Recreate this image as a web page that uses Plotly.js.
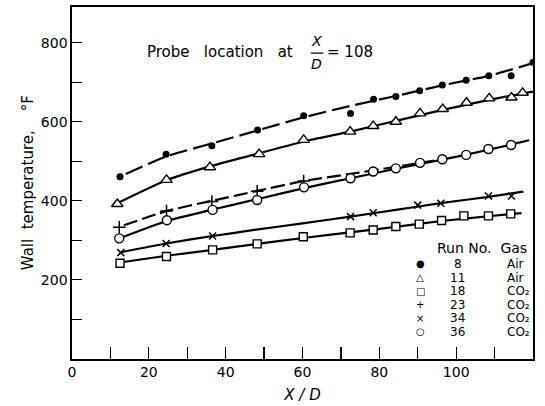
<!DOCTYPE html>
<html>
<head>
<meta charset="utf-8">
<script src="https://cdn.plot.ly/plotly-3.0.1.min.js"></script>
<style>
  html, body { margin: 0; padding: 0; background: #ffffff; }
  #chart { width: 545px; height: 406px; }
</style>
</head>
<body>
<div id="chart"></div>
<script>
// ---- Data ----
// Run 8 (Air) - filled circles
const run8X = [12.5, 24.5, 36.4, 48.3, 60.3, 72.5, 78.5, 84.3, 90.5, 96.4, 102.6, 108.5, 114.3, 120];
const run8Y = [461, 518, 539, 579, 615, 621, 657, 664, 678, 693, 705, 716, 716, 750];
const fit8X = [14, 24.5, 36.4, 48.3, 60.3, 72.5, 84.3, 96.4, 108.5, 120];
const fit8Y = [468, 512, 545, 578, 611, 640, 665, 692, 716, 748];

// Run 11 (Air) - open triangles
const run11X = [11.8, 24.6, 35.9, 48.7, 60.3, 72.4, 78.4, 84.3, 90.6, 96.5, 102.7, 108.6, 114.4, 117.3];
const run11Y = [392, 453, 485, 518, 554, 575, 589, 600, 621, 632, 648, 659, 661, 673];
const fit11X = [11.8, 24.6, 35.9, 48.7, 60.3, 72.4, 84.3, 96.5, 108.6, 120];
const fit11Y = [394, 452, 487, 520, 550, 575, 602, 630, 655, 676];

// Run 18 (CO2) - open squares
const run18X = [12.5, 24.6, 36.6, 48.2, 60.2, 72.4, 78.4, 84.3, 90.4, 96.2, 102, 108.4, 114.2];
const run18Y = [242, 259, 276, 291, 309, 319, 326, 335, 341, 350, 362, 362, 367];
const fit18X = [12.5, 24.6, 36.6, 48.2, 60.2, 72.4, 84.3, 96.2, 108.4, 117];
const fit18Y = [244, 261, 276, 291, 306, 320, 334, 349, 361, 369];

// Run 23 (CO2) - plus signs
const run23X = [12.3, 24.6, 36.4, 48.2, 60.3];
const run23Y = [333, 374, 398, 424, 450];
const fit23X = [13.5, 24.6, 36.4, 48.2, 60.3, 72.5, 84.3, 96.4];
const fit23Y = [338, 374, 400, 425, 450, 468, 486, 505];

// Run 34 (CO2) - crosses
const run34X = [12.7, 24.5, 36.6, 72.5, 78.4, 90, 96, 108.4, 114.4];
const run34Y = [269, 292, 311, 360, 370, 389, 394, 412, 412];
const fit34X = [12.7, 24.5, 36.6, 48, 60, 72.5, 84.3, 96, 108.4, 117.5];
const fit34Y = [270, 292, 311, 327, 343, 360, 377, 394, 410, 423];

// Run 36 (CO2) - open circles
const run36X = [12.3, 24.7, 36.6, 48.2, 60.4, 72.5, 78.4, 84.3, 90.6, 96.4, 102.6, 108.4, 114.3];
const run36Y = [305, 351, 377, 402, 434, 457, 474, 482, 496, 505, 516, 531, 541];
const fit36X = [12.3, 24.7, 36.6, 48.2, 60.4, 72.5, 84.3, 96.4, 108.4, 119];
const fit36Y = [305, 349, 378, 404, 432, 457, 481, 504, 529, 553];

// Legend table
const legendSymbols = ['\u25CF', '\u25B3', '\u25A1', '+', '\u00D7', '\u25CB'];
const legendRuns = ['8', '11', '18', '23', '34', '36'];
const legendGas = ['Air', 'Air', 'CO\u2082', 'CO\u2082', 'CO\u2082', 'CO\u2082'];

// Axis ticks
const xTickVals = [0, 20, 40, 60, 80, 100, 120];
const xMinorVals = [10, 30, 50, 70, 90, 110];
const yTickVals = [200, 400, 600, 800];
const yMinorVals = [100, 300, 500, 700];

// ---- Build traces ----
const FONT = 'DejaVu Sans, Arial, sans-serif';
function fitLine(x, y, dash) {
  return { x: x, y: y, type: 'scatter', mode: 'lines', hoverinfo: 'skip',
    line: { color: '#000', width: 2.2, dash: dash, shape: 'spline', smoothing: 0.6 }, showlegend: false };
}
function pts(x, y, symbol, size, fill, lw) {
  return { x: x, y: y, type: 'scatter', mode: 'markers', showlegend: false,
    marker: { symbol: symbol, size: size, color: fill, line: { color: '#000', width: lw } } };
}

const traces = [
  fitLine(fit8X, fit8Y, '18px,6px'),
  fitLine(fit11X, fit11Y, 'solid'),
  fitLine(fit18X, fit18Y, 'solid'),
  fitLine(fit23X, fit23Y, '14px,5px'),
  fitLine(fit34X, fit34Y, 'solid'),
  fitLine(fit36X, fit36Y, 'solid'),
  pts(run8X, run8Y, 'circle', 7, '#000', 0),
  pts(run11X, run11Y, 'triangle-up', 10, '#fff', 1.4),
  pts(run18X, run18Y, 'square', 8, '#fff', 1.4),
  pts(run23X, run23Y, 'cross-thin', 9, '#000', 1.5),
  pts(run34X, run34Y, 'x-thin', 7, '#000', 1.5),
  pts(run36X, run36Y, 'circle', 9, '#fff', 1.4)
];

// ---- Annotations (title text, axis title, legend table) ----
const annotations = [];
annotations.push({ xref: 'paper', yref: 'paper', x: 0.483, y: 0.872, xanchor: 'right', yanchor: 'middle',
  text: 'Probe   location   at', showarrow: false, font: { family: FONT, size: 15, color: '#000' } });
annotations.push({ xref: 'paper', yref: 'paper', x: 0.531, y: 0.903, xanchor: 'center', yanchor: 'middle',
  text: '<i>X</i>', showarrow: false, font: { family: FONT, size: 14, color: '#000' } });
annotations.push({ xref: 'paper', yref: 'paper', x: 0.531, y: 0.838, xanchor: 'center', yanchor: 'middle',
  text: '<i>D</i>', showarrow: false, font: { family: FONT, size: 14, color: '#000' } });
annotations.push({ xref: 'paper', yref: 'paper', x: 0.548, y: 0.872, xanchor: 'left', yanchor: 'middle',
  text: '= 108', showarrow: false, font: { family: FONT, size: 15, color: '#000' } });

annotations.push({ xref: 'paper', yref: 'paper', x: -0.095, y: 0.5, xanchor: 'center', yanchor: 'middle',
  textangle: -90, text: 'Wall  temperature,    °F', showarrow: false,
  font: { family: FONT, size: 15, color: '#000' } });

annotations.push({ xref: 'paper', yref: 'paper', x: 0.992, y: 0.316, xanchor: 'right', yanchor: 'middle',
  text: 'Run No.  Gas', showarrow: false, font: { family: FONT, size: 14, color: '#000' } });
const rowY0 = 0.270, rowStep = 0.0385;
legendRuns.forEach((r, i) => {
  const yy = rowY0 - i * rowStep;
  annotations.push({ xref: 'paper', yref: 'paper', x: 0.755, y: yy, xanchor: 'center', yanchor: 'middle',
    text: legendSymbols[i], showarrow: false, font: { family: FONT, size: 10, color: '#000' } });
  annotations.push({ xref: 'paper', yref: 'paper', x: 0.837, y: yy, xanchor: 'center', yanchor: 'middle',
    text: r, showarrow: false, font: { family: FONT, size: 12, color: '#000' } });
  annotations.push({ xref: 'paper', yref: 'paper', x: 0.940, y: yy, xanchor: 'left', yanchor: 'middle',
    text: legendGas[i], showarrow: false, font: { family: FONT, size: 12, color: '#000' } });
});

const layout = {
  width: 545, height: 406,
  margin: { l: 72, r: 12, t: 7, b: 47 },
  paper_bgcolor: '#fff', plot_bgcolor: '#fff',
  showlegend: false,
  font: { family: FONT, size: 14, color: '#000' },
  xaxis: {
    range: [0, 120], tickmode: 'array', tickvals: xTickVals,
    ticks: 'inside', ticklen: 12, tickwidth: 1.2, tickcolor: '#000',
    minor: { tickmode: 'array', tickvals: xMinorVals, ticks: 'inside', ticklen: 12, tickwidth: 1.2, tickcolor: '#000', showgrid: false },
    showline: true, linecolor: '#000', linewidth: 1.6, mirror: true,
    showgrid: false, zeroline: false,
    tickfont: { family: FONT, size: 14, color: '#000' },
    title: { text: '<i>X / D</i>', font: { family: FONT, size: 15, color: '#000' }, standoff: 10 }
  },
  yaxis: {
    range: [0, 890], tickmode: 'array', tickvals: yTickVals,
    ticks: 'inside', ticklen: 10, tickwidth: 1.2, tickcolor: '#000',
    minor: { tickmode: 'array', tickvals: yMinorVals, ticks: 'inside', ticklen: 10, tickwidth: 1.2, tickcolor: '#000', showgrid: false },
    showline: true, linecolor: '#000', linewidth: 1.6, mirror: true,
    showgrid: false, zeroline: false,
    tickfont: { family: FONT, size: 14, color: '#000' }
  },
  shapes: [
    { type: 'line', xref: 'paper', yref: 'paper', x0: 0.518, x1: 0.545, y0: 0.869, y1: 0.869,
      line: { color: '#000', width: 1.2 } }
  ],
  annotations: annotations
};

Plotly.newPlot('chart', traces, layout, { displayModeBar: false, staticPlot: true });
</script>
</body>
</html>
